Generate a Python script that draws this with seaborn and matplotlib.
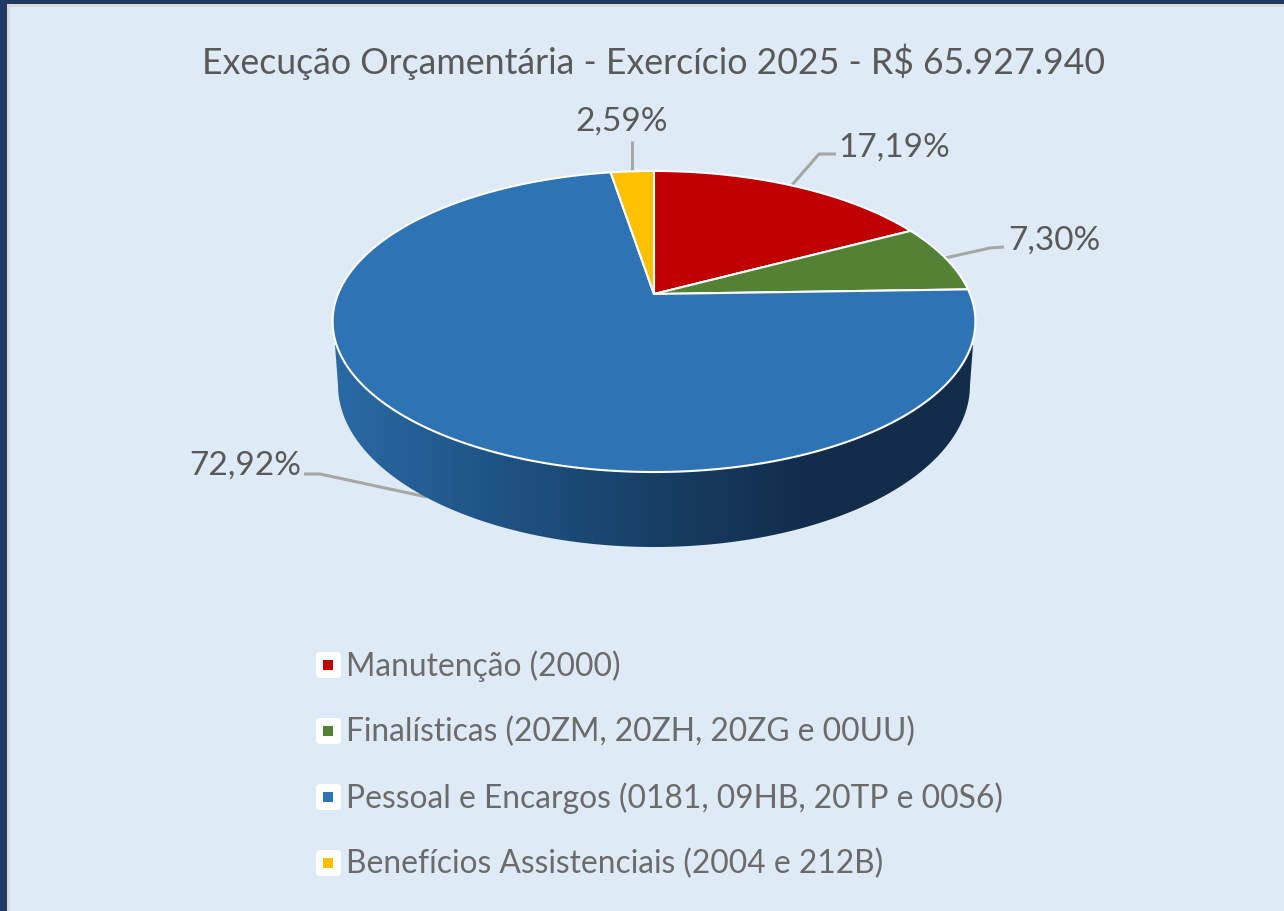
import numpy as np
import pandas as pd
import matplotlib
matplotlib.use("Agg")
import matplotlib.pyplot as plt
from matplotlib.patches import Polygon, Rectangle, FancyBboxPatch
from matplotlib.colors import LinearSegmentedColormap
import seaborn as sns

title = "Execução Orçamentária - Exercício 2025 - R$ 65.927.940"
categories = ["Manutenção (2000)",
              "Finalísticas (20ZM, 20ZH, 20ZG e 00UU)",
              "Pessoal e Encargos (0181, 09HB, 20TP e 00S6)",
              "Benefícios Assistenciais (2004 e 212B)"]
shares = [17.19, 7.30, 72.92, 2.59]
colors = ["#C00000", "#548235", "#2E74B5", "#FFC000"]

sns.set_theme(style="white")
plt.rcParams["font.family"] = ["Lato", "DejaVu Sans"]

W, H = 1284, 911
fig = plt.figure(figsize=(W / 100, H / 100), dpi=100, facecolor="#1F3864")
ax = fig.add_axes([0, 0, 1, 1])
ax.set_xlim(0, W)
ax.set_ylim(H, 0)
ax.axis("off")

ax.add_patch(Rectangle((7, 4), W, H, fc="#D9D9D9", ec="none", zorder=0))
ax.add_patch(Rectangle((10, 7), W, H, fc="#DEEAF6", ec="none", zorder=0.5))

# Perspective projection of the pie's top disc
CX, CY, RX, RY, K = 654.0, 294.0, 316.0, 145.5, 0.1827


def rim(pct):
    th = np.radians(np.asarray(pct) * 3.6)
    d = 1 + K * np.cos(th)
    return CX + RX * np.sin(th) / d, CY - RY * np.cos(th) / d


# Side wall
phi = np.linspace(-np.pi / 2, np.pi / 2, 300)
bx, by = 654 + 316 * np.sin(phi), 385 + 162 * np.cos(phi)
wall_x = np.r_[335, bx, 973]
wall_y = np.r_[345, by, 345]
wall = Polygon(np.c_[wall_x, wall_y], closed=True, fc="none", ec="none", zorder=1)
ax.add_patch(wall)
cmap = LinearSegmentedColormap.from_list(
    "wall", [(0, "#2A6AA5"), (0.25, "#1F5385"), (0.50, "#173F65"),
             (0.75, "#122C4A"), (1, "#122C4A")])
img = ax.imshow(np.linspace(0, 1, 512)[None, :], cmap=cmap, aspect="auto",
                extent=(335, 973, 550, 340), zorder=1, clip_on=True)
img.set_clip_path(wall)
ax.set_xlim(0, W)
ax.set_ylim(H, 0)

# Top disc wedges
edges = np.r_[0, np.cumsum(shares)]
for i, c in enumerate(colors):
    p = np.linspace(edges[i], edges[i + 1], 200)
    x, y = rim(p)
    ax.add_patch(Polygon(np.c_[np.r_[CX, x], np.r_[CY, y]], closed=True,
                         fc=c, ec="white", lw=1.5, joinstyle="round", zorder=2))

# Data labels and leader lines
labels = [f"{v:.2f}".replace(".", ",") + "%" for v in shares]
label_pos = [(894, 148), (1054, 241), (245, 466), (622, 122)]
leaders = [[(792, 185), (819, 154), (836, 154)],
           [(945, 258), (990, 248), (1004, 247)],
           [(427, 497), (320, 474), (304, 474)],
           [(632, 171), (632, 141)]]
for lab, pos, ld in zip(labels, label_pos, leaders):
    ax.text(*pos, lab, ha="center", va="center", fontsize=24, color="#595959", zorder=4)
    ax.plot(*zip(*ld), color="#A6A6A6", lw=2.2, solid_capstyle="butt", zorder=0.8)

ax.text(654, 62, title, ha="center", va="center", fontsize=25.7, color="#595959", zorder=4)

# Legend
rows = pd.DataFrame({"label": categories, "x": 328, "y": [665, 731, 797, 863]})
for y in rows["y"]:
    ax.add_patch(FancyBboxPatch((319, y - 10), 19, 20, boxstyle="round,pad=3,rounding_size=4",
                                fc="white", ec="none", zorder=2))
sns.scatterplot(data=rows, x="x", y="y", hue="label", palette=colors, marker="s", s=62,
                linewidth=0, legend=False, ax=ax, zorder=3)
for lab, y in zip(rows["label"], rows["y"]):
    ax.text(346, y + 1, lab, ha="left", va="center", fontsize=22.9, color="#6B6B6B", zorder=4)

ax.set_xlim(0, W)
ax.set_ylim(H, 0)
ax.set_xlabel("")
ax.set_ylabel("")
fig.savefig("out.png", dpi=100, facecolor=fig.get_facecolor())
